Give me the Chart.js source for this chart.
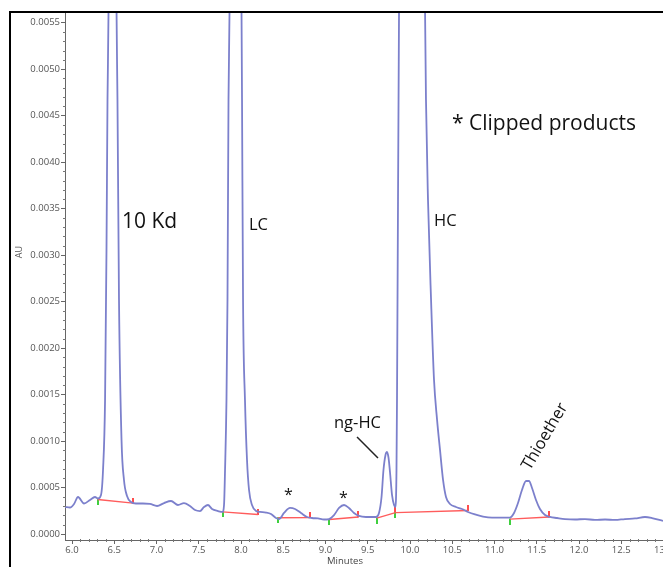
<!DOCTYPE html>
<html><head><meta charset="utf-8">
<script src="https://cdn.jsdelivr.net/npm/chart.js@4.4.1/dist/chart.umd.min.js"></script>
<style>
html,body{margin:0;padding:0;background:#fff;overflow:hidden;}
#wrap{position:relative;width:663px;height:567px;overflow:hidden;font-family:"Open Sans",sans-serif;background:#fff;}
#c{position:absolute;left:0;top:0;}
#frame{position:absolute;left:9px;top:11px;width:720px;height:620px;border-left:2px solid #000;border-top:2px solid #000;pointer-events:none;}
.lbl{position:absolute;white-space:nowrap;line-height:1;color:#111;}
</style></head>
<body><div id="wrap">
<canvas id="c" width="663" height="567"></canvas>
<div id="frame"></div>
<div class="lbl" style="left:122px;top:210px;font-size:21px;">10 Kd</div>
<div class="lbl" style="left:249px;top:215.5px;font-size:16.5px;">LC</div>
<div class="lbl" style="left:434px;top:211.5px;font-size:16.5px;">HC</div>
<div class="lbl" style="left:452px;top:111.5px;font-size:21px;">* Clipped products</div>
<div class="lbl" style="left:334px;top:414px;font-size:16.5px;">ng-HC</div>
<div class="lbl" style="left:284px;top:486px;font-size:16px;">*</div>
<div class="lbl" style="left:339px;top:489px;font-size:16px;">*</div>
<div class="lbl" style="left:544px;top:436px;font-size:16.5px;transform:translate(-50%,-50%) rotate(-59.6deg);">Thioether</div>
<div class="lbl" style="left:18px;top:252px;font-size:9px;color:#555;transform:translate(-50%,-50%) rotate(-90deg);">AU</div>
<div class="lbl" style="left:345px;top:556px;font-size:9.5px;color:#444;transform:translateX(-50%);">Minutes</div>
</div>
<script>
// ---- data (minutes, AU) ----
const times = [
 5.917,5.976,6.024,6.071,6.142,6.213,6.272,6.308,6.343,
 6.367,6.391,6.408,6.420,6.432,6.479,6.527,6.538,6.556,6.586,6.615,6.651,6.698,6.757,6.840,6.923,7.006,7.089,7.172,7.254,7.325,7.396,7.456,7.515,7.562,7.609,7.657,7.728,7.781,
 7.799,7.811,7.828,7.840,7.852,7.864,7.935,8.006,8.012,8.024,8.047,8.071,8.095,8.130,8.178,8.225,8.296,8.355,8.414,8.450,
 8.509,8.580,8.639,8.710,8.781,8.840,8.911,8.982,9.041,
 9.101,9.160,9.219,9.278,9.337,9.396,9.479,9.598,
 9.633,9.663,9.686,9.710,9.728,9.746,9.763,9.787,9.811,9.828,
 9.840,9.846,9.858,9.870,10.024,10.178,10.189,10.213,10.249,10.284,10.320,10.355,10.391,10.426,10.473,10.544,10.615,10.686,10.769,10.864,10.970,11.089,11.183,
 11.231,11.278,11.325,11.373,11.408,11.444,11.491,11.538,11.598,11.657,11.740,11.834,11.953,12.071,12.189,12.308,12.426,12.544,12.663,12.781,12.864,12.994
];
const au = [
 0.000290,0.000285,0.000323,0.000398,0.000328,0.000366,0.000398,0.000382,0.000420,
 0.000688,0.00144,0.00305,0.00467,0.00562,0.0140,0.00562,0.00467,0.00252,0.00101,0.000581,0.000409,0.000344,0.000328,0.000328,0.000323,0.000301,0.000333,0.000355,0.000312,0.000333,0.000301,0.000258,0.000247,0.000290,0.000312,0.000269,0.000247,0.000237,
 0.000312,0.000688,0.00144,0.00252,0.00467,0.00562,0.0180,0.00562,0.00467,0.00252,0.00144,0.000796,0.000473,0.000312,0.000247,0.000237,0.000231,0.000215,0.000172,0.000161,
 0.000226,0.000280,0.000269,0.000226,0.000183,0.000172,0.000167,0.000156,0.000161,
 0.000204,0.000280,0.000312,0.000280,0.000226,0.000194,0.000183,0.000183,
 0.000226,0.000398,0.000688,0.000850,0.000882,0.000818,0.000667,0.000420,0.000312,0.000290,
 0.000688,0.00144,0.00359,0.00562,0.0300,0.00562,0.00467,0.00359,0.00252,0.00166,0.00123,0.000904,0.000581,0.000398,0.000323,0.000290,0.000269,0.000237,0.000210,0.000188,0.000177,0.000177,0.000177,
 0.000226,0.000333,0.000473,0.000570,0.000570,0.000495,0.000366,0.000269,0.000204,0.000183,0.000172,0.000161,0.000156,0.000161,0.000151,0.000156,0.000151,0.000161,0.000167,0.000183,0.000172,0.000140
];
// integration baselines (start / end)
const baseStartT = [6.304, 7.781, 8.441, 9.045, 9.606, 9.828, 11.183];
const baseStartV = [0.000371, 0.000237, 0.000175, 0.000156, 0.000172, 0.000231, 0.000161];
const baseEndT   = [6.722, 8.201, 8.817, 9.388, 9.828, 10.690, 11.649];
const baseEndV   = [0.000333, 0.000210, 0.000177, 0.000183, 0.000231, 0.000253, 0.000183];
// axis ticks
const xTicks = [6.0,6.5,7.0,7.5,8.0,8.5,9.0,9.5,10.0,10.5,11.0,11.5,12.0,12.5,13.0];
const yTicks = [0,0.0005,0.0010,0.0015,0.0020,0.0025,0.0030,0.0035,0.0040,0.0045,0.0050,0.0055];
const X_MIN = 5.917, X_MAX = 12.994;
const Y_MIN = -0.0000645, Y_MAX = 0.005604;
// ng-HC leader line (data coords)
const leader = [[9.373, 0.001043],[9.621, 0.000818]];

function tickImg(color, up){
  const c = document.createElement('canvas'); c.width = 2; c.height = 11;
  const g = c.getContext('2d'); g.fillStyle = color;
  if (up) g.fillRect(0,0,2,6); else g.fillRect(0,5,2,6);
  return c;
}

const minorTicks = {
  id:'minorTicks',
  afterDraw(chart){
    const {ctx, chartArea:a, scales:{x,y}} = chart;
    ctx.save();
    ctx.strokeStyle = '#777'; ctx.lineWidth = 1;
    ctx.beginPath();
    for (let i=0;i<=55;i++){ if (i%5===0) continue;
      const py = Math.round(y.getPixelForValue(i*0.0001))+0.5;
      ctx.moveTo(a.left-2, py); ctx.lineTo(a.left+1, py); }
    for (let i=60;i<=130;i++){ if (i%5===0) continue;
      const px = Math.round(x.getPixelForValue(i/10))+0.5;
      if (px > a.right) continue;
      ctx.moveTo(px, a.bottom-1); ctx.lineTo(px, a.bottom+2); }
    ctx.stroke();
    ctx.strokeStyle = '#222'; ctx.lineWidth = 1.5;
    ctx.beginPath();
    ctx.moveTo(x.getPixelForValue(leader[0][0]), y.getPixelForValue(leader[0][1]));
    ctx.lineTo(x.getPixelForValue(leader[1][0]), y.getPixelForValue(leader[1][1]));
    ctx.stroke();
    ctx.restore();
  }
};

const datasets = [];
datasets.push({
  data: times.map((t,i)=>({x:t, y:au[i]})),
  borderColor:'#7c80cc', borderWidth:1.8, pointRadius:0, fill:false,
  cubicInterpolationMode:'monotone', order:0
});
for (let i=0;i<baseStartT.length;i++){
  datasets.push({
    data:[{x:baseStartT[i], y:baseStartV[i]},{x:baseEndT[i], y:baseEndV[i]}],
    borderColor:'#ff5c5c', borderWidth:1.3, pointRadius:0, fill:false, order:1
  });
}
datasets.push({
  data: baseStartT.map((t,i)=>({x:t, y:baseStartV[i]})),
  showLine:false, pointStyle: tickImg('#3fcf3f', false), pointRadius:3, order:2
});
datasets.push({
  data: baseEndT.map((t,i)=>({x:t, y:baseEndV[i]})),
  showLine:false, pointStyle: tickImg('#ff4d4d', true), pointRadius:3, order:2
});

new Chart(document.getElementById('c'), {
  type:'line',
  data:{datasets},
  plugins:[minorTicks],
  options:{
    responsive:false, animation:false, devicePixelRatio:1,
    layout:{autoPadding:false, padding:{top:13,left:0,right:0,bottom:0}},
    plugins:{legend:{display:false}, tooltip:{enabled:false}},
    elements:{line:{tension:0}},
    scales:{
      x:{
        type:'linear', min:X_MIN, max:X_MAX,
        afterBuildTicks: s => { s.ticks = xTicks.map(v=>({value:v})); },
        afterFit: s => { s.height = 27; s.paddingLeft = 0; s.paddingRight = 0; },
        ticks:{autoSkip:false, maxRotation:0, minRotation:0, padding:1, color:'#555',
               font:{family:'Open Sans', size:9.5}, callback: v => Number(v).toFixed(1)},
        grid:{drawOnChartArea:false, drawTicks:true, tickLength:4, tickColor:'#666'},
        border:{display:true, color:'#666', width:1}
      },
      y:{
        type:'linear', min:Y_MIN, max:Y_MAX,
        afterBuildTicks: s => { s.ticks = yTicks.map(v=>({value:v})); },
        afterFit: s => { s.width = 65; s.paddingTop = 0; s.paddingBottom = 0; },
        ticks:{autoSkip:false, padding:1, color:'#555',
               font:{family:'Open Sans', size:9.5}, callback: v => Number(v).toFixed(4)},
        grid:{drawOnChartArea:false, drawTicks:true, tickLength:4, tickColor:'#666'},
        border:{display:true, color:'#666', width:1}
      }
    }
  }
});
</script>
</body></html>
